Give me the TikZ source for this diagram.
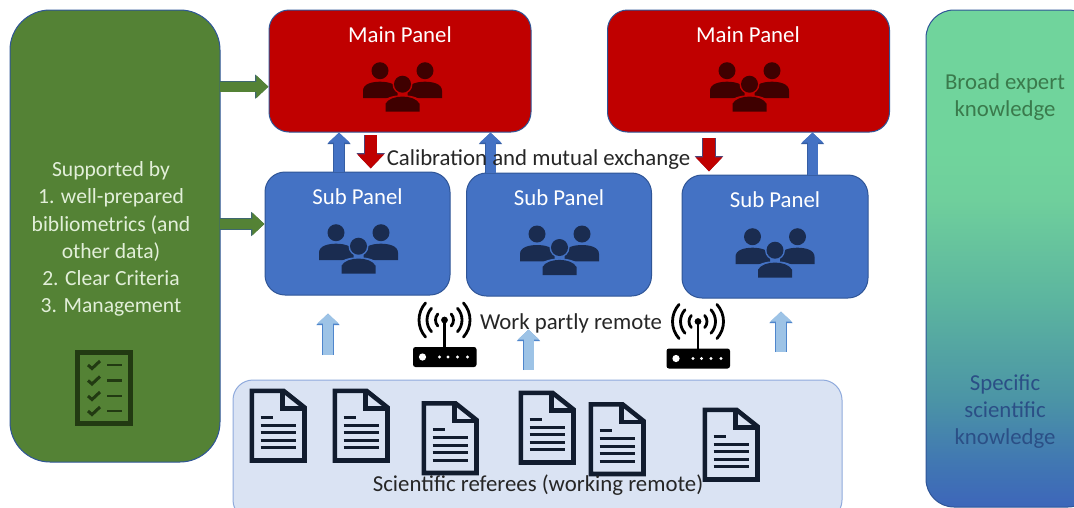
\documentclass[tikz,border=0pt]{standalone}
\usepackage{fontspec}
\setmainfont{Carlito}
\usetikzlibrary{arrows.meta,calc}
\definecolor{mainred}{HTML}{C00000}
\definecolor{subblue}{HTML}{4472C4}
\definecolor{leafgreen}{HTML}{548235}
\definecolor{edgeblue}{HTML}{2F5597}
\definecolor{paleblue}{HTML}{DAE3F3}
\definecolor{paleedge}{HTML}{8FAADC}
\definecolor{arrowpale}{HTML}{9DC3E6}
\definecolor{arrowpaleedge}{HTML}{4F86CC}
\definecolor{iconred}{HTML}{3F0000}
\definecolor{iconblue}{HTML}{1A2C50}
\definecolor{docink}{HTML}{111C2E}
\definecolor{listink}{HTML}{223A12}
\definecolor{lefttext}{HTML}{E2EFD9}
\definecolor{graytext}{HTML}{262626}
\definecolor{broadtext}{HTML}{3A7A4C}
\definecolor{spectext}{HTML}{2B4F86}
\definecolor{kA}{HTML}{3D66BA}
\definecolor{kB}{HTML}{4178B2}
\definecolor{kC}{HTML}{4B94A6}
\definecolor{kD}{HTML}{5CB59F}
\definecolor{kE}{HTML}{6FCF9C}
\definecolor{kF}{HTML}{70D49C}
\pgfdeclareverticalshading{knowledge}{100bp}{
 color(0bp)=(kA);
 color(25bp)=(kA);
 color(29.7bp)=(kB);
 color(35.8bp)=(kC);
 color(45.8bp)=(kD);
 color(55.9bp)=(kE);
 color(60.9bp)=(kF);
 color(100bp)=(kF)}
\tikzset{
 x=1pt,y=-1pt,
 panel/.style n args={4}{draw=edgeblue,line width=1pt,fill=#1,rounded corners=#2,minimum width=#3,minimum height=#4,inner sep=0pt,outer sep=0pt,anchor=center},
 lbl/.style={font=\fontsize{22.8}{27.2}\selectfont,align=center,inner sep=0pt,anchor=center},
 block/.style n args={5}{% fill, edge, shaft, head width, head length
  preaction={draw=#2,line width=#3+1.4pt,-{Triangle[length=#5+1.4pt,width=#4+1.6pt]}},
  draw=#1,line width=#3,-{Triangle[length=#5,width=#4]},shorten >=0.6pt},
 blueup/.style={block={subblue}{edgeblue!70!subblue}{10pt}{21pt}{10pt}},
 paleup/.style={block={arrowpale}{arrowpaleedge}{10pt}{21pt}{10pt}},
 reddown/.style={block={mainred}{edgeblue!80!mainred}{12pt}{26pt}{14pt}},
 greenright/.style={block={leafgreen}{edgeblue!60!leafgreen}{10pt}{22pt}{12pt}},
 pics/people/.style n args={2}{code={
  \fill[#1] (-22.5,0) circle (8.5) (22.5,0) circle (8.5);
  \fill[#1] (-39.5,27.3) -- (-39.5,20) .. controls (-39.5,13) and (-30,11) .. (-22.5,11) .. controls (-15,11) and (-5,13) .. (-5,20) -- (-5,27.3) -- cycle;
  \fill[#1] (39.5,27.3) -- (39.5,20) .. controls (39.5,13) and (30,11) .. (22.5,11) .. controls (15,11) and (5,13) .. (5,20) -- (5,27.3) -- cycle;
  \fill[#2] (0,13.5) circle (10);
  \fill[#2] (-20,43) -- (-20,32) .. controls (-16,22) and (16,22) .. (20,32) -- (20,43) -- cycle;
  \fill[#1] (0,13.5) circle (8.5);
  \fill[#1] (-17,41) -- (-17,33) .. controls (-12,23.5) and (12,23.5) .. (17,33) -- (17,41) -- cycle;
 }},
 pics/paper/.style={code={
  \draw[docink,line width=4.6pt,miter limit=4] (2.3,2.3) -- (34,2.3) -- (55,19) -- (55,72) -- (2.3,72) -- cycle;
  \draw[docink,line width=4.6pt] (33,2.3) -- (33,20) -- (55,20);
  \draw[docink,line width=3pt]
   (11,28.5) -- (23,28.5)
   (11,36.5) -- (46,36.5) (11,44) -- (46,44) (11,51.5) -- (46,51.5) (11,59) -- (46,59);
 }},
 pics/router/.style={code={
  \fill[black,rounded corners=2.5pt] (-31.5,0) rectangle (32,20);
  \fill[white] (-22,10) circle (3.6);
  \foreach \dx in {-5,3.5,13,23}{\fill[white] (\dx,10) circle (1.7);}
  \draw[black,line width=2.6pt] (0,0) -- (0,-27);
  \fill[black] (0,-27) circle (3.4);
  \foreach \r in {9,17.5,25.5}{
   \draw[black,line width=2.8pt,line cap=round] (0,-27) ++(-42:\r) arc[start angle=-42,end angle=42,radius=\r];
   \draw[black,line width=2.8pt,line cap=round] (0,-27) ++(138:\r) arc[start angle=138,end angle=222,radius=\r];
  }
 }},
 pics/checklist/.style={code={
  \draw[listink,line width=5pt] (77.5,352.5) rectangle (130.5,423.5);
  \foreach \yy in {365,380.5,396,411}{
   \draw[listink,line width=3pt] (88,\yy) -- (92,\yy+3.5) -- (100,\yy-4);
   \draw[listink,line width=2.4pt] (107,\yy) -- (122,\yy);
  }
 }}
}
\begin{document}
\begin{tikzpicture}
\useasboundingbox (0,0) rectangle (1074,507);
\clip (0,0) rectangle (1074,507);
\fill[white] (0,0) rectangle (1074,507);

% large containers
\node[panel={leafgreen}{40pt}{210pt}{452pt}] (support) at (115,236) {};
\node[draw=edgeblue,line width=1pt,shading=knowledge,rounded corners=28pt,minimum width=170pt,minimum height=497pt,inner sep=0pt,outer sep=0pt] (range) at (1011,258.5) {};
\node[draw=paleedge,line width=1pt,fill=paleblue,rounded corners=20pt,minimum width=609pt,minimum height=140pt,inner sep=0pt,outer sep=0pt] (referees) at (537.5,450) {};

% panels
\node[panel={mainred}{20pt}{262pt}{122pt}] (mainA) at (400,71) {};
\node[panel={mainred}{20pt}{282pt}{122pt}] (mainB) at (748.5,71) {};
\node[panel={subblue}{20pt}{185pt}{123pt}] (subA) at (357.5,233.5) {};
\node[panel={subblue}{20pt}{185pt}{123pt}] (subB) at (559,234.5) {};
\node[panel={subblue}{20pt}{186pt}{123pt}] (subC) at (775,236.5) {};

% anchors for the block arrows
\coordinate (upAx) at (339,0);
\coordinate (upBx) at (490.5,0);
\coordinate (upCx) at (812.5,0);
\coordinate (paleAb) at (328,355);
\coordinate (paleAt) at (328,313);
\coordinate (paleBb) at (528.5,370);
\coordinate (paleBt) at (528.5,329);
\coordinate (paleCb) at (781,352);
\coordinate (paleCt) at (781,311);

% block arrows
\draw[blueup] (subA.north -| upAx) -- (mainA.south -| upAx);
\draw[blueup] (subB.north -| upBx) -- (mainA.south -| upBx);
\draw[blueup] (subC.north -| upCx) -- (mainB.south -| upCx);
\coordinate (redAs) at (370.7,135);
\coordinate (redAe) at (370.7,169);
\coordinate (redBs) at (709,138);
\coordinate (redBe) at (709,172);
\draw[reddown] (redAs) -- (redAe);
\draw[reddown] (redBs) -- (redBe);
\coordinate (greenA) at (220,86.7);
\coordinate (greenB) at (220,224);
\draw[greenright] (greenA) -- (greenA -| mainA.west);
\draw[greenright] (greenB) -- (greenB -| subA.west);
\draw[paleup] (paleAb) -- (paleAt);
\draw[paleup] (paleCb) -- (paleCt);

% panel titles
\node[lbl,text=white] (mainAt) at (400,35) {Main Panel};
\node[lbl,text=white] (mainBt) at (748,35) {Main Panel};
\node[lbl,text=white] (subAt) at (357.5,197) {Sub Panel};
\node[lbl,text=white] (subBt) at (559,198) {Sub Panel};
\node[lbl,text=white] (subCt) at (775,200) {Sub Panel};

% people
\pic at (402.5,70.7) {people={iconred}{mainred}};
\pic at (749.5,70.7) {people={iconred}{mainred}};
\pic at (358.5,232.7) {people={iconblue}{subblue}};
\pic at (559.5,234) {people={iconblue}{subblue}};
\pic at (775,236.7) {people={iconblue}{subblue}};

% left column
\node[lbl,text=lefttext,font=\fontsize{21.6}{27.2}\selectfont] (supportt) at (111,239) {Supported by\\1. well-prepared\\bibliometrics (and\\other data)\\2. Clear Criteria\\3. Management};
\pic at (0,0) {checklist};

% right column
\node[lbl,text=broadtext] (broad) at (1005,97) {Broad expert\\knowledge};
\node[lbl,text=spectext] (specific) at (1005,411.5) {Specific\\scientific\\knowledge};

% routers
\pic at (444.5,347) {router};
\pic at (698,348.5) {router};

% documents
\pic at (249.5,388.5) {paper};
\pic at (332.5,388.5) {paper};
\pic at (421.5,401) {paper};
\pic at (518.5,390.5) {paper};
\pic at (588.5,402) {paper};
\pic at (702.5,407.5) {paper};

\draw[paleup] (paleBb) -- (paleBt);

% free labels
\node[lbl,text=graytext] (calib) at (538.5,160) {Calibration and mutual exchange};
\node[lbl,text=graytext] (remote) at (571,323) {Work partly remote};
\node[lbl,text=graytext] (scient) at (538,485) {Scientific referees (working remote)};
\end{tikzpicture}
\end{document}
